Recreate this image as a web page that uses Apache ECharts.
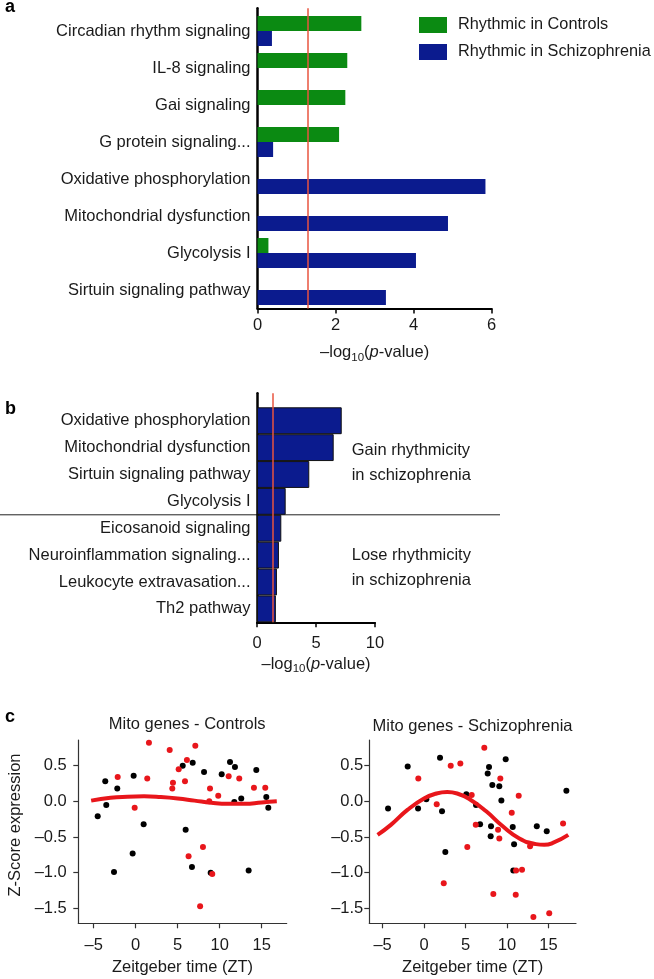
<!DOCTYPE html>
<html><head><meta charset="utf-8">
<script src="https://cdn.jsdelivr.net/npm/echarts@6/dist/echarts.min.js"></script>
<style>html,body{margin:0;padding:0;background:#fff}#c{width:654px;height:979px}</style>
</head><body><div id="c"></div>
<script>
// ---------- Panel a ----------
const catsA = ['Circadian rhythm signaling','IL-8 signaling','Gai signaling','G protein signaling...','Oxidative phosphorylation','Mitochondrial dysfunction','Glycolysis I','Sirtuin signaling pathway'];
const controlsA = [2.66, 2.30, 2.25, 2.09, null, null, 0.28, null];
const schizoA = [0.37, null, null, 0.40, 5.84, 4.88, 4.06, 3.29];
const legendA = ['Rhythmic in Controls', 'Rhythmic in Schizophrenia'];
// ---------- Panel b ----------
const catsB = ['Oxidative phosphorylation','Mitochondrial dysfunction','Sirtuin signaling pathway','Glycolysis I','Eicosanoid signaling','Neuroinflammation signaling...','Leukocyte extravasation...','Th2 pathway'];
const valsB = [7.18, 6.50, 4.43, 2.43, 2.06, 1.86, 1.69, 1.60];
const threshold = 1.3;
// ---------- Panel c ----------
const xTicksC = [-5, 0, 5, 10, 15];
const yTicksC = [-1.5, -1.0, -0.5, 0.0, 0.5];
const ctrlBlack = [[5.6,0.50],[-3.62,0.28],[-0.24,0.36],[-2.19,0.18],[-3.5,-0.05],[-4.52,-0.21],[0.95,-0.32],[5.95,-0.40],[-0.36,-0.73],[-2.58,-0.99],[6.79,0.54],[8.14,0.41],[10.24,0.38],[11.23,0.55],[11.82,0.48],[14.36,0.44],[11.74,-0.01],[12.57,0.04],[15.55,0.06],[15.79,-0.09],[6.7,-0.92],[8.93,-1.0],[13.45,-0.97]];
const ctrlRed = [[1.58,0.82],[4.05,0.72],[6.1,0.58],[5.12,0.45],[-2.14,0.34],[1.38,0.32],[4.44,0.26],[5.87,0.28],[4.36,0.18],[-0.12,-0.09],[6.3,-0.77],[7.1,0.78],[8.85,0.18],[9.83,0.08],[8.76,0.0],[11.07,0.35],[12.33,0.32],[14.08,0.19],[15.43,0.19],[8.01,-0.64],[9.12,-1.02],[7.67,-1.47]];
const ctrlFit = [[-5.3,0.01],[-3,0.05],[-1,0.065],[1,0.07],[3,0.06],[5,0.04],[7,0.01],[9,-0.02],[11,-0.035],[13,-0.035],[15,-0.015],[16.8,0.0]];
const szBlack = [[-4.34,-0.10],[-1.97,0.49],[1.93,0.61],[-0.72,-0.10],[0.28,0.03],[2.17,-0.14],[2.57,-0.71],[5.1,0.10],[6.27,-0.05],[9.85,0.59],[7.84,0.48],[7.68,0.39],[8.24,0.23],[9.08,0.21],[9.33,0.01],[17.17,0.15],[6.76,-0.32],[8.08,-0.35],[8.04,-0.49],[10.7,-0.36],[10.86,-0.60],[13.6,-0.35],[14.8,-0.42],[10.77,-0.97]];
const szRed = [[-0.69,0.32],[3.22,0.50],[4.38,0.53],[1.53,-0.04],[5.75,0.09],[6.24,-0.33],[5.22,-0.64],[2.38,-1.15],[7.27,0.75],[9.2,0.32],[11.42,0.08],[10.58,-0.16],[8.93,-0.40],[9.08,-0.52],[12.79,-0.63],[16.77,-0.31],[11.1,-0.97],[11.82,-0.96],[8.36,-1.30],[11.06,-1.31],[13.19,-1.62],[15.1,-1.57]];
const szFit = [[-5.6,-0.47],[-4,-0.33],[-2,-0.12],[0,0.04],[1.5,0.11],[2.8,0.13],[4,0.11],[5.5,0.03],[7.5,-0.14],[9.5,-0.35],[11.5,-0.52],[13.5,-0.60],[14.5,-0.61],[15.6,-0.58],[17.4,-0.47]];

const F = "'Liberation Sans', Arial, Helvetica, sans-serif";
const FS = 16.5;
const TXT = '#1a1a1a';
const GREEN = '#0b8a12', BLUE = '#0b1b8e', RED = '#e8161b', THR = '#e8553f';

const nameRich = {
  a: {fontFamily: F, fontSize: FS, color: TXT, lineHeight: 22},
  s: {fontFamily: F, fontSize: 11.5, color: TXT, verticalAlign: 'bottom', lineHeight: 14},
  i: {fontFamily: F, fontSize: FS, fontStyle: 'italic', color: TXT, lineHeight: 22}
};
const logName = '{a|–log}{s|10}{a|(}{i|p}{a|-value)}';
const lbl = (extra) => Object.assign({fontFamily: F, fontSize: FS, color: TXT}, extra || {});
const minus = (s) => s.replace('-', '–');

function barValueX(grid, max, interval, margin, gap) {
  return {gridIndex: grid, type: 'value', min: 0, max: max, interval: interval,
    axisLine: {show: true, onZero: false, lineStyle: {color: '#000', width: 2}},
    axisTick: {show: true, length: 5, lineStyle: {color: '#000', width: 1.5}},
    axisLabel: lbl({margin: margin}), splitLine: {show: false},
    name: logName, nameLocation: 'middle', nameGap: gap, nameTextStyle: {rich: nameRich}};
}
function catY(grid, cats, margin) {
  return {gridIndex: grid, type: 'category', data: cats, inverse: true,
    axisLine: {show: false}, axisTick: {show: false},
    axisLabel: lbl({interval: 0, margin: margin})};
}
function overlayX(grid, max) { return {gridIndex: grid, type: 'value', min: 0, max: max, show: false}; }
function overlayY(grid) {
  return {gridIndex: grid, type: 'value', min: 0, max: 1,
    axisLine: {show: true, onZero: false, lineStyle: {color: '#000', width: 2.5}},
    axisTick: {show: false}, axisLabel: {show: false}, splitLine: {show: false}};
}
function scX(grid, min, max) {
  return {gridIndex: grid, type: 'value', min: min, max: max,
    axisLine: {show: true, onZero: false, lineStyle: {color: '#333', width: 1.2}},
    axisTick: {show: true, customValues: xTicksC, length: 5, lineStyle: {color: '#333', width: 1.2}},
    axisLabel: lbl({customValues: xTicksC, margin: 14, formatter: v => minus(String(v))}),
    splitLine: {show: false},
    name: 'Zeitgeber time (ZT)', nameLocation: 'middle', nameGap: 36, nameTextStyle: lbl()};
}
function scY(grid, margin) {
  return {gridIndex: grid, type: 'value', min: -1.71, max: 0.86,
    axisLine: {show: true, onZero: false, lineStyle: {color: '#333', width: 1.2}},
    axisTick: {show: true, customValues: yTicksC, length: 5, lineStyle: {color: '#333', width: 1.2}},
    axisLabel: lbl({customValues: yTicksC, margin: margin, formatter: v => minus(v.toFixed(1))}),
    splitLine: {show: false}};
}
function thrLine(idx) {
  return {type: 'line', xAxisIndex: idx, yAxisIndex: idx, data: [], silent: true,
    markLine: {silent: true, symbol: 'none', label: {show: false}, animation: false,
      lineStyle: {color: THR, width: 1.5, type: 'solid'}, data: [{xAxis: threshold}]}};
}
function dots(idx, data, color) {
  return {type: 'scatter', xAxisIndex: idx, yAxisIndex: idx, data: data, symbolSize: 6,
    itemStyle: {color: color, opacity: 1}, z: 3};
}
function fit(idx, data) {
  return {type: 'line', xAxisIndex: idx, yAxisIndex: idx, data: data, smooth: true,
    symbol: 'none', lineStyle: {color: RED, width: 4}, z: 5};
}

const chart = echarts.init(document.getElementById('c'), null, {renderer: 'canvas', width: 654, height: 979});
chart.setOption({
  animation: false,
  backgroundColor: '#fff',
  textStyle: {fontFamily: F},
  legend: {orient: 'vertical', left: 419, top: 17, padding: 0, itemWidth: 28, itemHeight: 16, itemGap: 11,
    icon: 'rect', data: legendA, textStyle: {fontFamily: F, fontSize: 16.3, color: TXT, padding: [0, 0, 0, 6]}},
  grid: [
    {left: 257.5, top: 12.5, width: 234.2, height: 296},
    {left: 257.5, top: 8.3, width: 234.2, height: 300.2},
    {left: 257, top: 407.3, width: 118, height: 215},
    {left: 257, top: 393.3, width: 118, height: 229},
    {left: 78.3, top: 740, width: 208.4, height: 183.3},
    {left: 369.3, top: 740, width: 206.7, height: 183.3}
  ],
  xAxis: [barValueX(0, 6, 2, 8, 33), overlayX(1, 6), barValueX(2, 10, 5, 12.5, 31), overlayX(3, 10),
          scX(4, -6.83, 17.98), scX(5, -6.6, 18.33)],
  yAxis: [catY(0, catsA, 7), overlayY(1), catY(2, catsB, 6.5), overlayY(3), scY(4, 11.5), scY(5, 6)],
  series: [
    {type: 'bar', name: legendA[0], xAxisIndex: 0, yAxisIndex: 0, data: controlsA, barWidth: 15, barGap: '0%', itemStyle: {color: GREEN}},
    {type: 'bar', name: legendA[1], xAxisIndex: 0, yAxisIndex: 0, data: schizoA, barWidth: 15, barGap: '0%', itemStyle: {color: BLUE}},
    thrLine(1),
    {type: 'bar', xAxisIndex: 2, yAxisIndex: 2, data: valsB, barWidth: '100%', barCategoryGap: '0%',
      itemStyle: {color: BLUE, borderColor: '#111', borderWidth: 1}},
    thrLine(3),
    dots(4, ctrlBlack, '#000'), dots(4, ctrlRed, RED), fit(4, ctrlFit),
    dots(5, szBlack, '#000'), dots(5, szRed, RED), fit(5, szFit)
  ]
});

// separator between "gain" and "lose" groups in panel b
const yA = chart.convertToPixel({yAxisIndex: 2}, catsB[3]);
const yB = chart.convertToPixel({yAxisIndex: 2}, catsB[4]);
const sepY = (yA + yB) / 2;
const T = (text, x, y, extra) => ({type: 'text', x: x, y: y, silent: true,
  style: Object.assign({text: text, fontFamily: F, fontSize: FS, fill: TXT, textAlign: 'left', textVerticalAlign: 'middle'}, extra || {})});
chart.setOption({
  graphic: [
    T('a', 5, 7.5, {fontSize: 18, fontWeight: 'bold', fill: '#000'}),
    T('b', 5, 409, {fontSize: 18, fontWeight: 'bold', fill: '#000'}),
    T('c', 5, 717.5, {fontSize: 18, fontWeight: 'bold', fill: '#000'}),
    {type: 'line', silent: true, shape: {x1: 0, y1: sepY, x2: 500, y2: sepY}, style: {stroke: '#222', lineWidth: 1}},
    T('Gain rhythmicity\nin schizophrenia', 351.7, 463, {lineHeight: 25.5}),
    T('Lose rhythmicity\nin schizophrenia', 351.7, 568, {lineHeight: 25}),
    T('Mito genes - Controls', 187.2, 724.5, {textAlign: 'center'}),
    T('Mito genes - Schizophrenia', 472.5, 726.5, {textAlign: 'center'}),
    {type: 'text', x: 15, y: 825, rotation: Math.PI / 2, silent: true,
      style: {text: 'Z-Score expression', fontFamily: F, fontSize: FS, fill: TXT, textAlign: 'center', textVerticalAlign: 'middle'}}
  ]
});
</script>
</body></html>
